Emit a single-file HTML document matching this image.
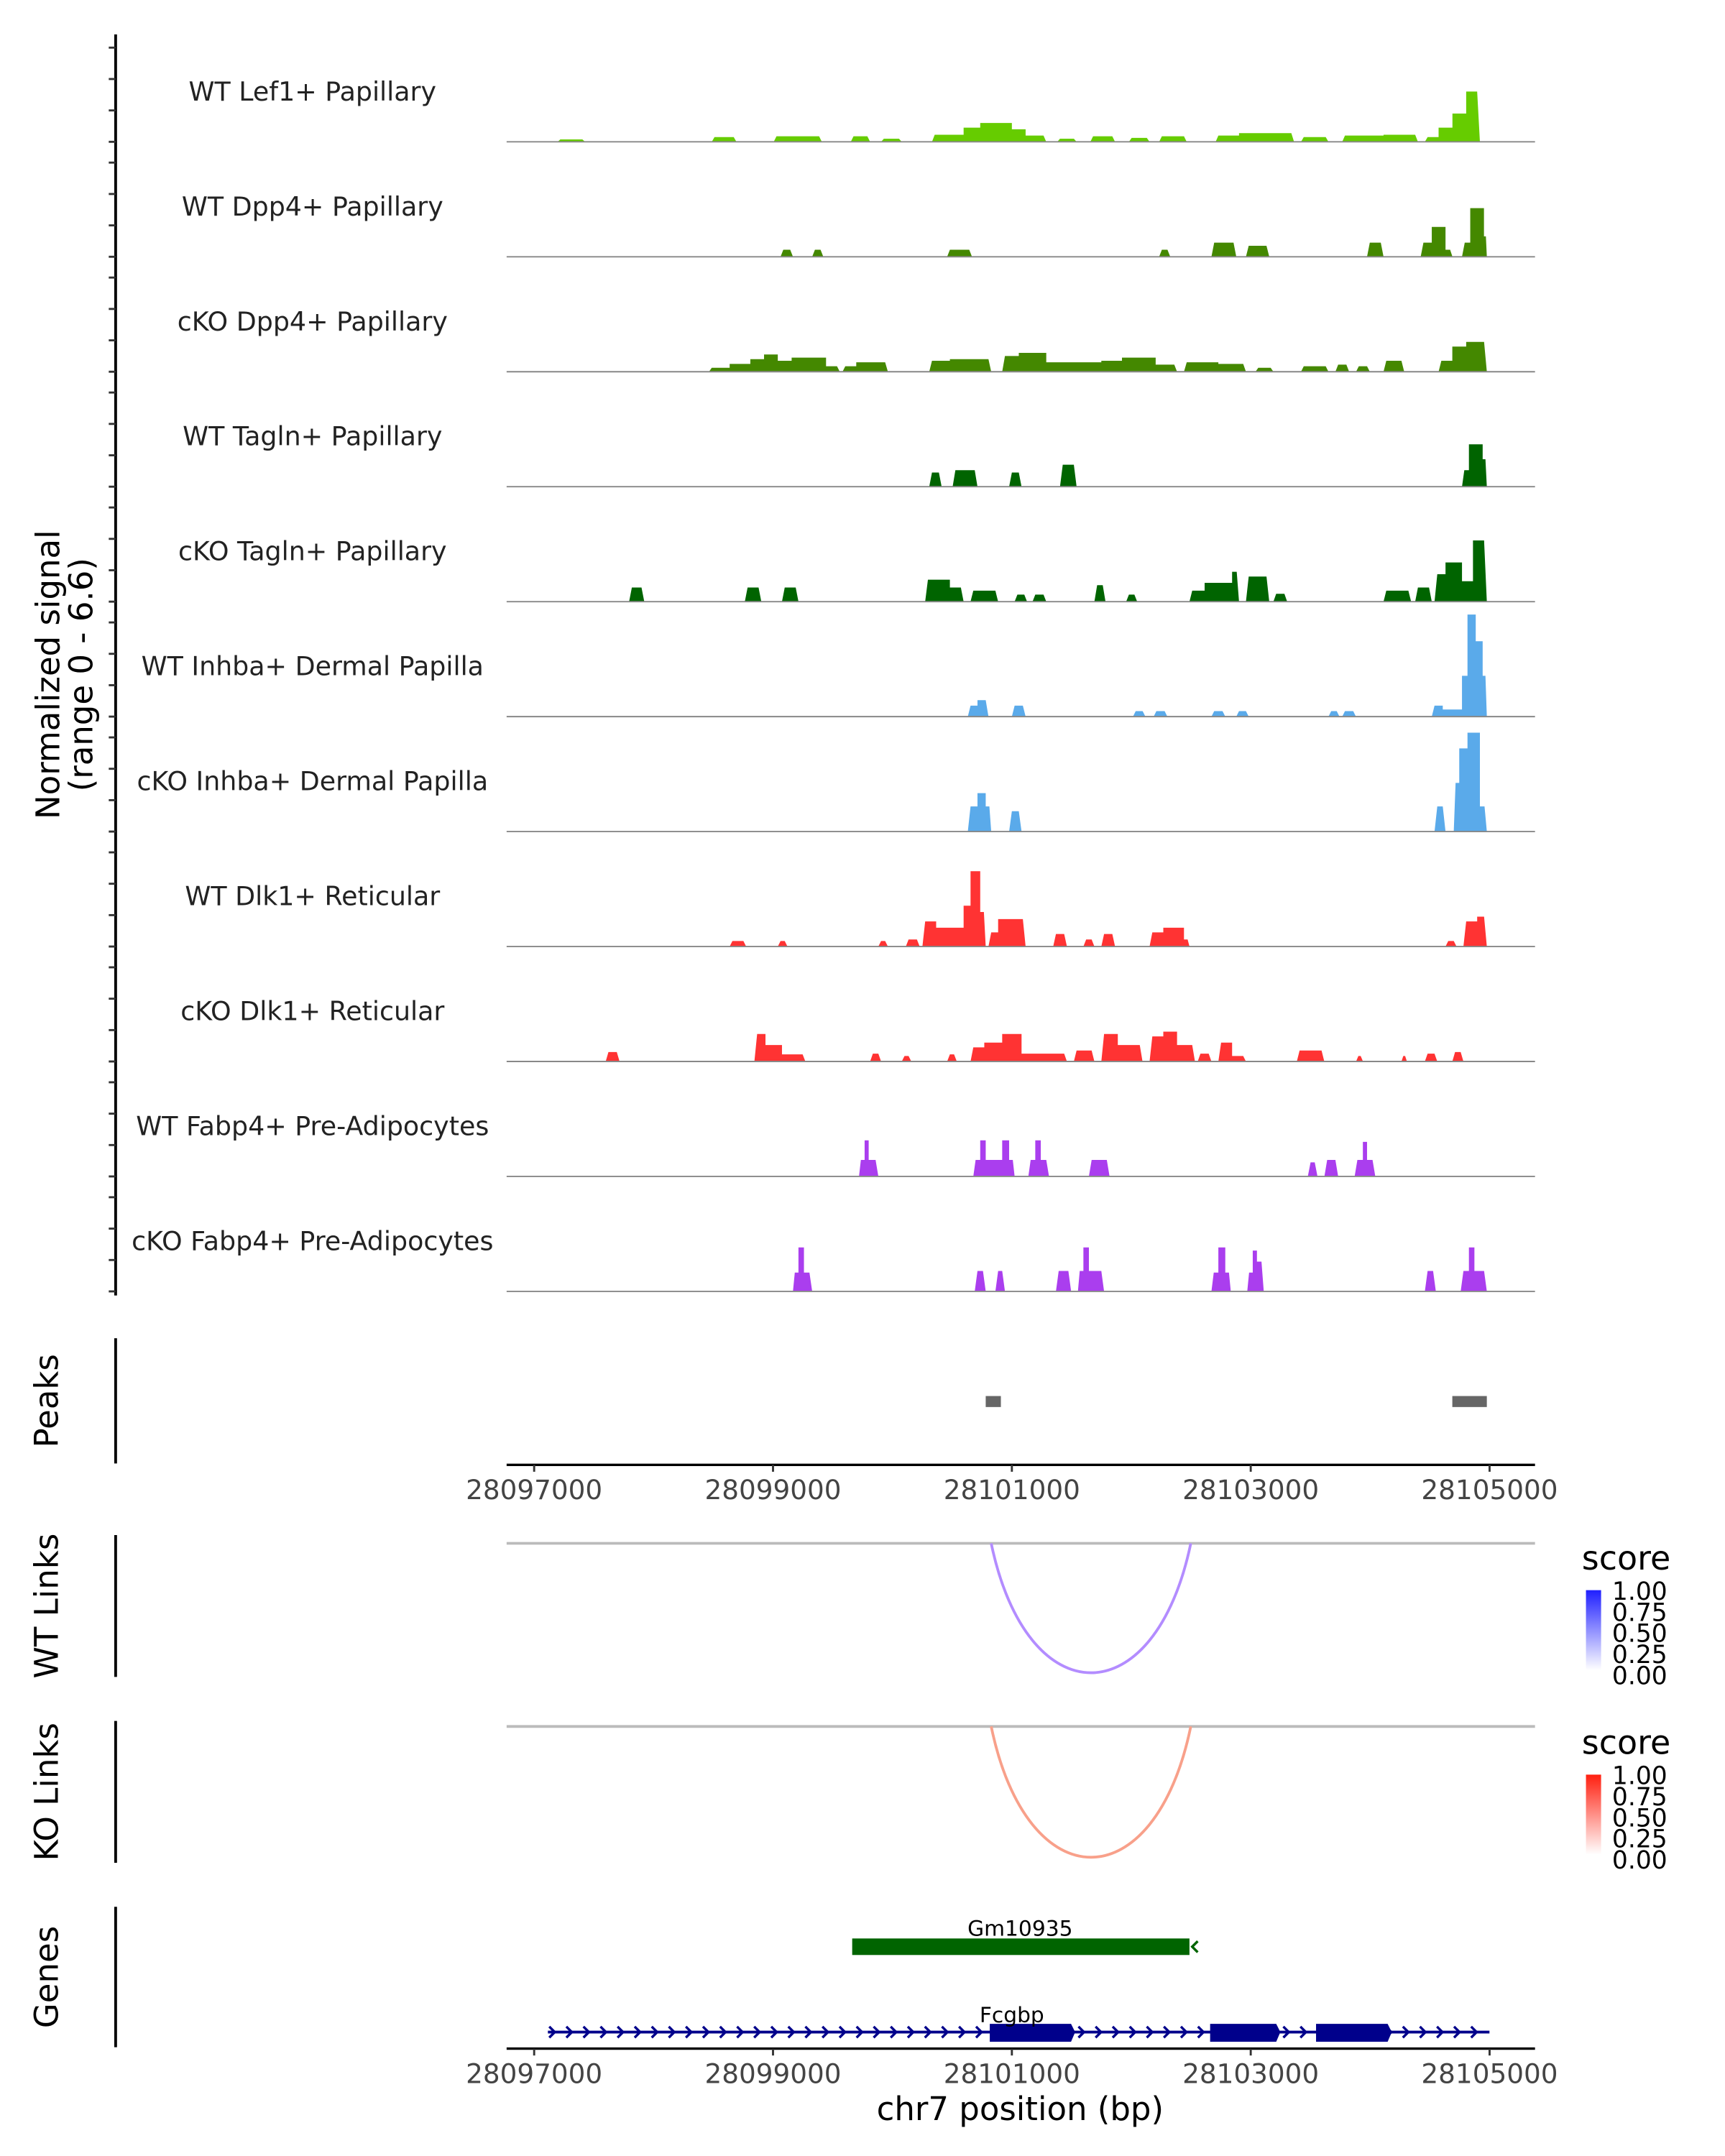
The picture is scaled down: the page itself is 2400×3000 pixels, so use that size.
<!DOCTYPE html>
<html><head><meta charset="utf-8"><style>
html,body{margin:0;padding:0;background:#fff}
svg{display:block}
text{font-family:"DejaVu Sans","Liberation Sans",sans-serif}
</style></head><body>
<svg id="chart" width="2400" height="3000" viewBox="0 0 1253 1566" preserveAspectRatio="none" xmlns="http://www.w3.org/2000/svg">
<g id="g"></g>
</svg>
<script>
const trackNames = ["WT Lef1+ Papillary","WT Dpp4+ Papillary","cKO Dpp4+ Papillary","WT Tagln+ Papillary","cKO Tagln+ Papillary","WT Inhba+ Dermal Papilla","cKO Inhba+ Dermal Papilla","WT Dlk1+ Reticular","cKO Dlk1+ Reticular","WT Fabp4+ Pre-Adipocytes","cKO Fabp4+ Pre-Adipocytes"];
const trackColors = ["#66cc00","#448800","#448800","#006400","#006400","#5aaaea","#5aaaea","#ff3333","#ff3333","#aa3eee","#aa3eee"];
// segments: [start bp, end bp, normalized signal]
const covLef1 = [[28097196,28097427,0.15],[28098487,28098694,0.3],[28099006,28099409,0.35],[28099651,28099813,0.35],[28099905,28100078,0.2],[28100331,28100596,0.45],[28100596,28100735,0.9],[28100735,28101000,1.2],[28101000,28101115,0.8],[28101115,28101288,0.4],[28101380,28101542,0.2],[28101657,28101864,0.35],[28101980,28102153,0.25],[28102233,28102464,0.35],[28102706,28102902,0.4],[28102902,28103363,0.55],[28103421,28103651,0.3],[28103766,28104112,0.4],[28104112,28104400,0.45],[28104458,28104573,0.3],[28104573,28104689,0.9],[28104689,28104804,1.8],[28104804,28104919,3.2]];
const covWTDpp4 = [[28099063,28099167,0.45],[28099328,28099421,0.45],[28100458,28100666,0.45],[28102233,28102326,0.45],[28102671,28102879,0.9],[28102960,28103155,0.7],[28103974,28104112,0.9],[28104423,28104516,0.9],[28104516,28104631,1.9],[28104631,28104689,0.45],[28104769,28104838,0.9],[28104838,28104953,3.1],[28104953,28104977,1.3]];
const covKODpp4 = [[28098464,28098637,0.25],[28098637,28098810,0.5],[28098810,28098925,0.8],[28098925,28099040,1.1],[28099040,28099156,0.7],[28099156,28099444,0.9],[28099444,28099559,0.35],[28099582,28099697,0.35],[28099697,28099962,0.6],[28100308,28100481,0.7],[28100481,28100827,0.8],[28100919,28101058,1.0],[28101058,28101288,1.2],[28101288,28101749,0.6],[28101749,28101922,0.7],[28101922,28102204,0.9],[28102204,28102383,0.45],[28102441,28102729,0.6],[28102729,28102960,0.5],[28103040,28103190,0.25],[28103421,28103651,0.35],[28103709,28103824,0.45],[28103882,28103997,0.35],[28104112,28104285,0.7],[28104573,28104688,0.7],[28104688,28104804,1.6],[28104804,28104977,1.9]];
const covWTTagln = [[28100308,28100412,0.9],[28100504,28100712,1.05],[28100977,28101081,0.9],[28101403,28101542,1.4],[28104769,28104827,1.05],[28104827,28104942,2.7],[28104942,28104977,1.75]];
const covKOTagln = [[28097795,28097922,0.9],[28098764,28098902,0.9],[28099075,28099213,0.9],[28100274,28100481,1.4],[28100481,28100596,0.9],[28100654,28100885,0.7],[28101023,28101127,0.45],[28101173,28101288,0.45],[28101691,28101784,1.05],[28101957,28102049,0.45],[28102487,28102614,0.7],[28102614,28102844,1.2],[28102844,28102902,1.9],[28102960,28103155,1.6],[28103190,28103305,0.5],[28104112,28104343,0.7],[28104377,28104516,0.9],[28104539,28104631,1.75],[28104631,28104769,2.5],[28104769,28104861,1.3],[28104861,28104977,3.9]];
const covWTInhba = [[28100631,28100712,0.7],[28100712,28100804,1.05],[28101000,28101115,0.7],[28102014,28102118,0.35],[28102187,28102302,0.35],[28102671,28102787,0.35],[28102879,28102983,0.35],[28103651,28103743,0.35],[28103766,28103881,0.35],[28104516,28104608,0.7],[28104608,28104769,0.45],[28104769,28104815,2.6],[28104815,28104884,6.5],[28104884,28104942,4.8],[28104942,28104977,2.6]];
const covKOInhba = [[28100631,28100712,1.6],[28100712,28100781,2.45],[28100781,28100827,1.6],[28100977,28101081,1.3],[28104539,28104631,1.6],[28104700,28104746,3.1],[28104746,28104815,5.3],[28104815,28104919,6.3],[28104919,28104977,1.6]];
const covWTDlk1 = [[28098637,28098775,0.35],[28099040,28099121,0.35],[28099882,28099962,0.35],[28100112,28100228,0.45],[28100251,28100366,1.6],[28100366,28100596,1.2],[28100596,28100654,2.6],[28100654,28100735,4.8],[28100735,28100781,2.2],[28100804,28100885,0.9],[28100885,28101115,1.75],[28101346,28101461,0.8],[28101599,28101691,0.45],[28101749,28101864,0.8],[28102153,28102268,0.9],[28102268,28102441,1.2],[28102441,28102487,0.45],[28104631,28104723,0.35],[28104781,28104896,1.6],[28104896,28104977,1.9]];
const covKODlk1 = [[28097599,28097715,0.6],[28098844,28098937,1.75],[28098937,28099075,1.05],[28099075,28099271,0.45],[28099813,28099905,0.5],[28100078,28100158,0.35],[28100458,28100539,0.45],[28100654,28100769,0.9],[28100769,28100919,1.2],[28100919,28101081,1.75],[28101081,28101461,0.5],[28101519,28101691,0.7],[28101749,28101887,1.75],[28101887,28102094,1.05],[28102153,28102268,1.6],[28102268,28102383,1.9],[28102383,28102533,1.05],[28102556,28102671,0.5],[28102729,28102844,1.2],[28102844,28102960,0.35],[28103386,28103616,0.7],[28103882,28103940,0.35],[28104262,28104308,0.35],[28104458,28104562,0.5],[28104688,28104781,0.6]];
const covWTFabp4 = [[28099720,28099767,1.05],[28099767,28099801,2.3],[28099801,28099882,1.05],[28100677,28100735,1.05],[28100735,28100781,2.3],[28100781,28100919,1.05],[28100919,28100977,2.3],[28100977,28101023,1.05],[28101138,28101196,1.05],[28101196,28101242,2.3],[28101242,28101311,1.05],[28101645,28101818,1.05],[28103478,28103559,0.9],[28103617,28103732,1.05],[28103870,28103939,1.05],[28103939,28103974,2.2],[28103974,28104043,1.05]];
const covKOFabp4 = [[28099167,28099213,1.2],[28099213,28099259,2.8],[28099259,28099328,1.2],[28100689,28100781,1.3],[28100862,28100942,1.3],[28101369,28101496,1.3],[28101553,28101599,1.3],[28101599,28101645,2.8],[28101645,28101772,1.3],[28102671,28102729,1.2],[28102729,28102787,2.8],[28102787,28102833,1.2],[28102971,28103017,1.2],[28103017,28103052,2.6],[28103052,28103109,1.9],[28104458,28104550,1.3],[28104758,28104827,1.3],[28104827,28104873,2.8],[28104873,28104977,1.3]];
const coverage = [covLef1,covWTDpp4,covKODpp4,covWTTagln,covKOTagln,covWTInhba,covKOInhba,covWTDlk1,covKODlk1,covWTFabp4,covKOFabp4];
const peakStarts = [28100781,28104688];
const peakEnds = [28100908,28104977];
const xTicks = [28097000,28099000,28101000,28103000,28105000];
const linkStart = [28100827];
const linkEnd = [28102498];
const linkScore = [0.4];
const geneNames = ["Gm10935","Fcgbp"];
const geneStart = [28099663,28097115];
const geneEnd = [28102487,28104999];
const fcgbpExonStart = [28100815,28102660,28103547];
const fcgbpExonEnd = [28101530,28103248,28104181];
const legendLabels = ["1.00","0.75","0.50","0.25","0.00"];

const NS="http://www.w3.org/2000/svg";
const root=document.getElementById('g');
function el(tag,attrs,parent){const e=document.createElementNS(NS,tag);for(const k in attrs)e.setAttribute(k,attrs[k]);(parent||root).appendChild(e);return e;}
function txt(s,attrs,parent){const e=el('text',attrs,parent);e.textContent=s;return e;}
const X0=388, PX_PER_BP=86.75/1000, BP0=28097000;
const xs=bp=>X0+(bp-BP0)*PX_PER_BP;
const UNIT=11.4, TRACK_GAP=83.5, BASE0=103;
const ys=(i,v)=>BASE0+TRACK_GAP*i-v*UNIT;

let a=el('line',{x1:84,y1:25,x2:84,y2:941,stroke:'#000','stroke-width':2});


for(let i=0;i<11;i++){
  for(const v of [0,2,4,6]){
    const y=ys(i,v);
    const t=el('line',{x1:79,y1:y,x2:84,y2:y,stroke:'#333','stroke-width':1.5});
    
    
  }
}
let yt=txt('Normalized signal',{x:0,y:0,'font-size':23.5,'text-anchor':'middle',transform:'translate(43,490) rotate(-90)',fill:'#000'});


let yt2=txt('(range 0 - 6.6)',{x:0,y:0,'font-size':23.5,'text-anchor':'middle',transform:'translate(67,490) rotate(-90)',fill:'#000'});



for(let i=0;i<11;i++){
  const g=el('g',{});
  
  
  const lab=txt(trackNames[i],{x:227,y:73+TRACK_GAP*i,'font-size':19,'text-anchor':'middle',fill:'#222'},g);
  
  
  const base=ys(i,0);
  const segs=coverage[i];
  const groups=[];
  segs.forEach(s=>{const last=groups[groups.length-1];if(last&&s[0]<=last[last.length-1][1]+5)last.push(s);else groups.push([s]);});
  groups.forEach(gr=>{
    let d='M'+xs(gr[0][0]).toFixed(2)+' '+base;
    gr.forEach((s,k)=>{
      const x0=xs(s[0]),x1=xs(s[1]),y=ys(i,s[2]);
      const sl=Math.min(2,(x1-x0)/3);
      d+=' L'+(k===0?x0+sl:x0).toFixed(2)+' '+y.toFixed(2);
      d+=' L'+(k===gr.length-1?x1-sl:x1).toFixed(2)+' '+y.toFixed(2);
    });
    d+=' L'+xs(gr[gr.length-1][1]).toFixed(2)+' '+base+' Z';
    const p=el('path',{d:d,fill:trackColors[i]},g);
    
    
  });
  const bl=el('line',{x1:368,y1:base,x2:1115,y2:base,stroke:'#888','stroke-width':1},g);
  
  
}

function panel(name,y1,y2,label){
  const l=el('line',{x1:84,y1:y1,x2:84,y2:y2,stroke:'#000','stroke-width':2});
  
  
  const t=txt(label,{x:0,y:0,'font-size':23.5,'text-anchor':'middle',transform:'translate(42,'+((y1+y2)/2)+') rotate(-90)',fill:'#000'});
  
  
}
panel('peaks',972,1063,'Peaks');
panel('wt-links',1115,1218,'WT Links');
panel('ko-links',1250,1353,'KO Links');
panel('genes',1385,1487,'Genes');

for(let k=0;k<peakStarts.length;k++){
  const r=el('rect',{x:xs(peakStarts[k]),y:1014,width:xs(peakEnds[k])-xs(peakStarts[k]),height:8,fill:'#666'});
  
  
}

function xAxis(y,name){
  const l=el('line',{x1:368,y1:y,x2:1115,y2:y,stroke:'#000','stroke-width':1.8});
  
  
  xTicks.forEach(t=>{
    const tk=el('line',{x1:xs(t),y1:y,x2:xs(t),y2:y+5,stroke:'#333','stroke-width':1.5});
    
    
    const tl=txt(String(t),{x:xs(t),y:y+25,'font-size':19.5,'text-anchor':'middle',fill:'#444'});
    
    
  });
}
xAxis(1064,'peaks-x-axis');
xAxis(1488,'genes-x-axis');
let xt=txt('chr7 position (bp)',{x:741,y:1540,'font-size':23.5,'text-anchor':'middle',fill:'#000'});



function links(base,depth,color,name,hiColor,legY){
  const bl=el('line',{x1:368,y1:base,x2:1115,y2:base,stroke:'#bbb','stroke-width':2});
  
  
  for(let k=0;k<linkStart.length;k++){
    const x0=xs(linkStart[k]),x1=xs(linkEnd[k]);
    const c=base+depth/0.75;
    const p=el('path',{d:`M${x0} ${base} C${x0+(x1-x0)*0.18} ${c} ${x1-(x1-x0)*0.18} ${c} ${x1} ${base}`,fill:'none',stroke:color,'stroke-width':2});
    
    
  }
  const lg=el('g',{});
  
  
  txt('score',{x:1149,y:legY,'font-size':24,fill:'#000'},lg);
  const gid='grad-'+name;
  const defs=el('defs',{},lg);
  const gr=el('linearGradient',{id:gid,x1:0,y1:0,x2:0,y2:1},defs);
  el('stop',{offset:'0','stop-color':hiColor},gr);
  el('stop',{offset:'1','stop-color':'#ffffff'},gr);
  const bar=el('rect',{x:1152,y:legY+15,width:11,height:58,fill:`url(#${gid})`},lg);
  
  
  legendLabels.forEach((s,k)=>{txt(s,{x:1171,y:legY+22+k*15.3,'font-size':18,fill:'#000'},lg);});
}
links(1121,94,'#b38cff','wt-links','#1f1fff',1140);
links(1254,95,'#f8a08a','ko-links','#ff2010',1274);

const gm=el('g',{});


el('rect',{x:xs(geneStart[0]),y:1408,width:xs(geneEnd[0])-xs(geneStart[0]),height:12,fill:'#006400'},gm);
el('path',{d:`M${xs(geneEnd[0])+6} 1410 L${xs(geneEnd[0])+2} 1414 L${xs(geneEnd[0])+6} 1418`,fill:'none',stroke:'#006400','stroke-width':1.8},gm);
txt(geneNames[0],{x:741,y:1406,'font-size':15.5,'text-anchor':'middle',fill:'#000'},gm);

const fc=el('g',{});


const gx0=xs(geneStart[1]),gx1=xs(geneEnd[1]);
el('line',{x1:gx0,y1:1476,x2:gx1,y2:1476,stroke:'#00008b','stroke-width':2},fc);
for(let x=gx0+4;x<=gx1+1;x+=12.4){
  el('path',{d:`M${x-3} 1472 L${x+1} 1476 L${x-3} 1480`,fill:'none',stroke:'#00008b','stroke-width':1.8},fc);
}
for(let k=0;k<fcgbpExonStart.length;k++){
  const a0=xs(fcgbpExonStart[k]),a1=xs(fcgbpExonEnd[k]);
  const ex=el('path',{d:`M${a0} 1470 L${a1-3} 1470 L${a1} 1476 L${a1-3} 1483 L${a0} 1483 Z`,fill:'#00008b'},fc);
  
  
}
txt(geneNames[1],{x:735,y:1469,'font-size':15.5,'text-anchor':'middle',fill:'#000'},fc);
</script>
</body></html>
